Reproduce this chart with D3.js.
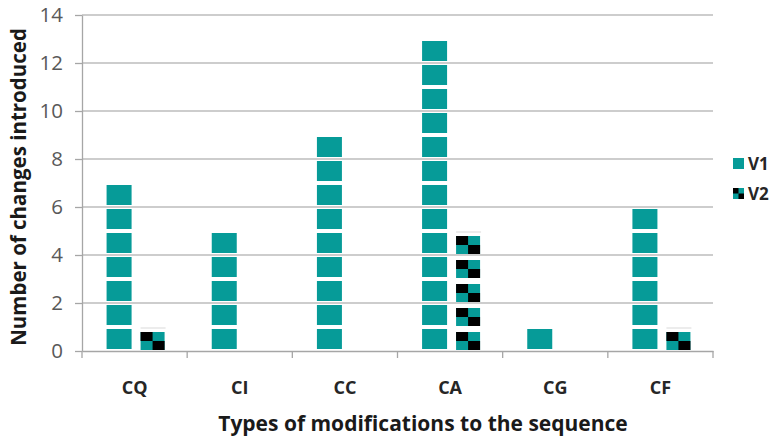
<!DOCTYPE html>
<html><head><meta charset="utf-8">
<script src="https://cdn.jsdelivr.net/npm/d3@7"></script>
<style>body{margin:0;background:#fff}svg{display:block}</style>
</head><body>
<script>
const categories = ["CQ","CI","CC","CA","CG","CF"];
const seriesNames = ["V1","V2"];
const v1 = [7,5,9,13,1,6];
const v2 = [1,0,0,5,0,1];
const yTicks = [0,2,4,6,8,10,12,14];

const W=778,H=438;
const teal="#069b98", dark="#000";
const svg=d3.select("body").append("svg").attr("width",W).attr("height",H);
const x=d3.scaleBand().domain(categories).range([82,713]);
const y=d3.scaleLinear().domain([0,14]).range([351,15]);

// grid
svg.append("g").selectAll("line").data(yTicks.filter(d=>d>0)).join("line")
  .attr("x1",82).attr("x2",713).attr("y1",d=>y(d)).attr("y2",d=>y(d))
  .attr("stroke","#bdbdbd").attr("stroke-width",1.3);

// y axis
const ya=svg.append("g").attr("transform","translate(82,0)")
  .call(d3.axisLeft(y).tickValues(yTicks).tickSize(7).tickPadding(12).tickSizeOuter(0));
ya.select(".domain").attr("stroke","#a6a6a6").attr("stroke-width",1.3);
ya.selectAll(".tick line").attr("stroke","#a6a6a6").attr("stroke-width",1.3);
ya.selectAll("text").attr("font-family","Open Sans, sans-serif").attr("font-size",20.5).attr("fill","#595959");

// x axis
const xa=svg.append("g").attr("transform","translate(0,351)")
  .call(d3.axisBottom(x).tickSize(0).tickPadding(0));
xa.select(".domain").attr("stroke","#a6a6a6").attr("stroke-width",1.3);
xa.selectAll(".tick text").attr("dy",0).attr("y",43).attr("font-family","Open Sans, sans-serif")
  .attr("font-size",18).attr("font-weight","bold").attr("fill","#262626");
const bounds=categories.map(c=>x(c)).concat([x.range()[1]]);
svg.append("g").selectAll("line").data(bounds).join("line")
  .attr("x1",d=>d).attr("x2",d=>d).attr("y1",351).attr("y2",358)
  .attr("stroke","#a6a6a6").attr("stroke-width",1.3);

// V1 bars as stacked squares
const bw=25;
const v1Units=[];categories.forEach((c,i)=>{for(let k=0;k<v1[i];k++)v1Units.push({c,k});});
svg.append("g").selectAll("rect").data(v1Units).join("rect")
  .attr("x",d=>x(d.c)+x.bandwidth()/2-28)
  .attr("y",d=>y(d.k+1)+2).attr("width",bw).attr("height",d=>y(d.k)-y(d.k+1)-4)
  .attr("fill",teal);

// V2 bars as checker squares
const v2Units=[];categories.forEach((c,i)=>{for(let k=0;k<v2[i];k++)v2Units.push({c,k});});
const g2=svg.append("g");
g2.selectAll("line").data(categories.map((c,i)=>({c,v:v2[i]})).filter(d=>d.v>0)).join("line")
  .attr("x1",d=>x(d.c)+x.bandwidth()/2+6).attr("x2",d=>x(d.c)+x.bandwidth()/2+31)
  .attr("y1",d=>y(d.v)+1).attr("y2",d=>y(d.v)+1).attr("stroke","#d9d9d9").attr("stroke-width",1);
const sq=g2.selectAll("g.u").data(v2Units).join("g").attr("class","u")
  .attr("transform",d=>`translate(${x(d.c)+x.bandwidth()/2+6},${y(d.k+1)+5})`);
sq.append("rect").attr("width",24).attr("height",18).attr("fill",teal);
sq.append("rect").attr("width",12).attr("height",9).attr("fill",dark);
sq.append("rect").attr("x",12).attr("y",9).attr("width",12).attr("height",9).attr("fill",dark);

// legend
const lg=svg.append("g");
const li=lg.selectAll("g").data(seriesNames).join("g").attr("transform",(d,i)=>`translate(733,${158+i*30})`);
li.filter((d,i)=>i===0).append("rect").attr("width",11).attr("height",11).attr("fill",teal);
const l2=li.filter((d,i)=>i===1);
l2.append("rect").attr("width",11).attr("height",11).attr("fill",teal);
l2.append("rect").attr("width",5.5).attr("height",5.5).attr("fill",dark);
l2.append("rect").attr("x",5.5).attr("y",5.5).attr("width",5.5).attr("height",5.5).attr("fill",dark);
li.append("text").attr("x",15).attr("y",12).text(d=>d)
  .attr("font-family","Open Sans, sans-serif").attr("font-size",17).attr("font-weight","bold").attr("fill","#262626");

// axis titles
svg.append("text").attr("transform","translate(26,187) rotate(-90)").attr("text-anchor","middle")
  .attr("font-family","Open Sans, sans-serif").attr("font-size",20.5).attr("font-weight","bold").attr("fill","#1a1a1a")
  .text("Number of changes introduced");
svg.append("text").attr("x",423).attr("y",431).attr("text-anchor","middle")
  .attr("font-family","Open Sans, sans-serif").attr("font-size",21).attr("font-weight","bold").attr("fill","#1a1a1a")
  .text("Types of modifications to the sequence");
</script>
</body></html>
